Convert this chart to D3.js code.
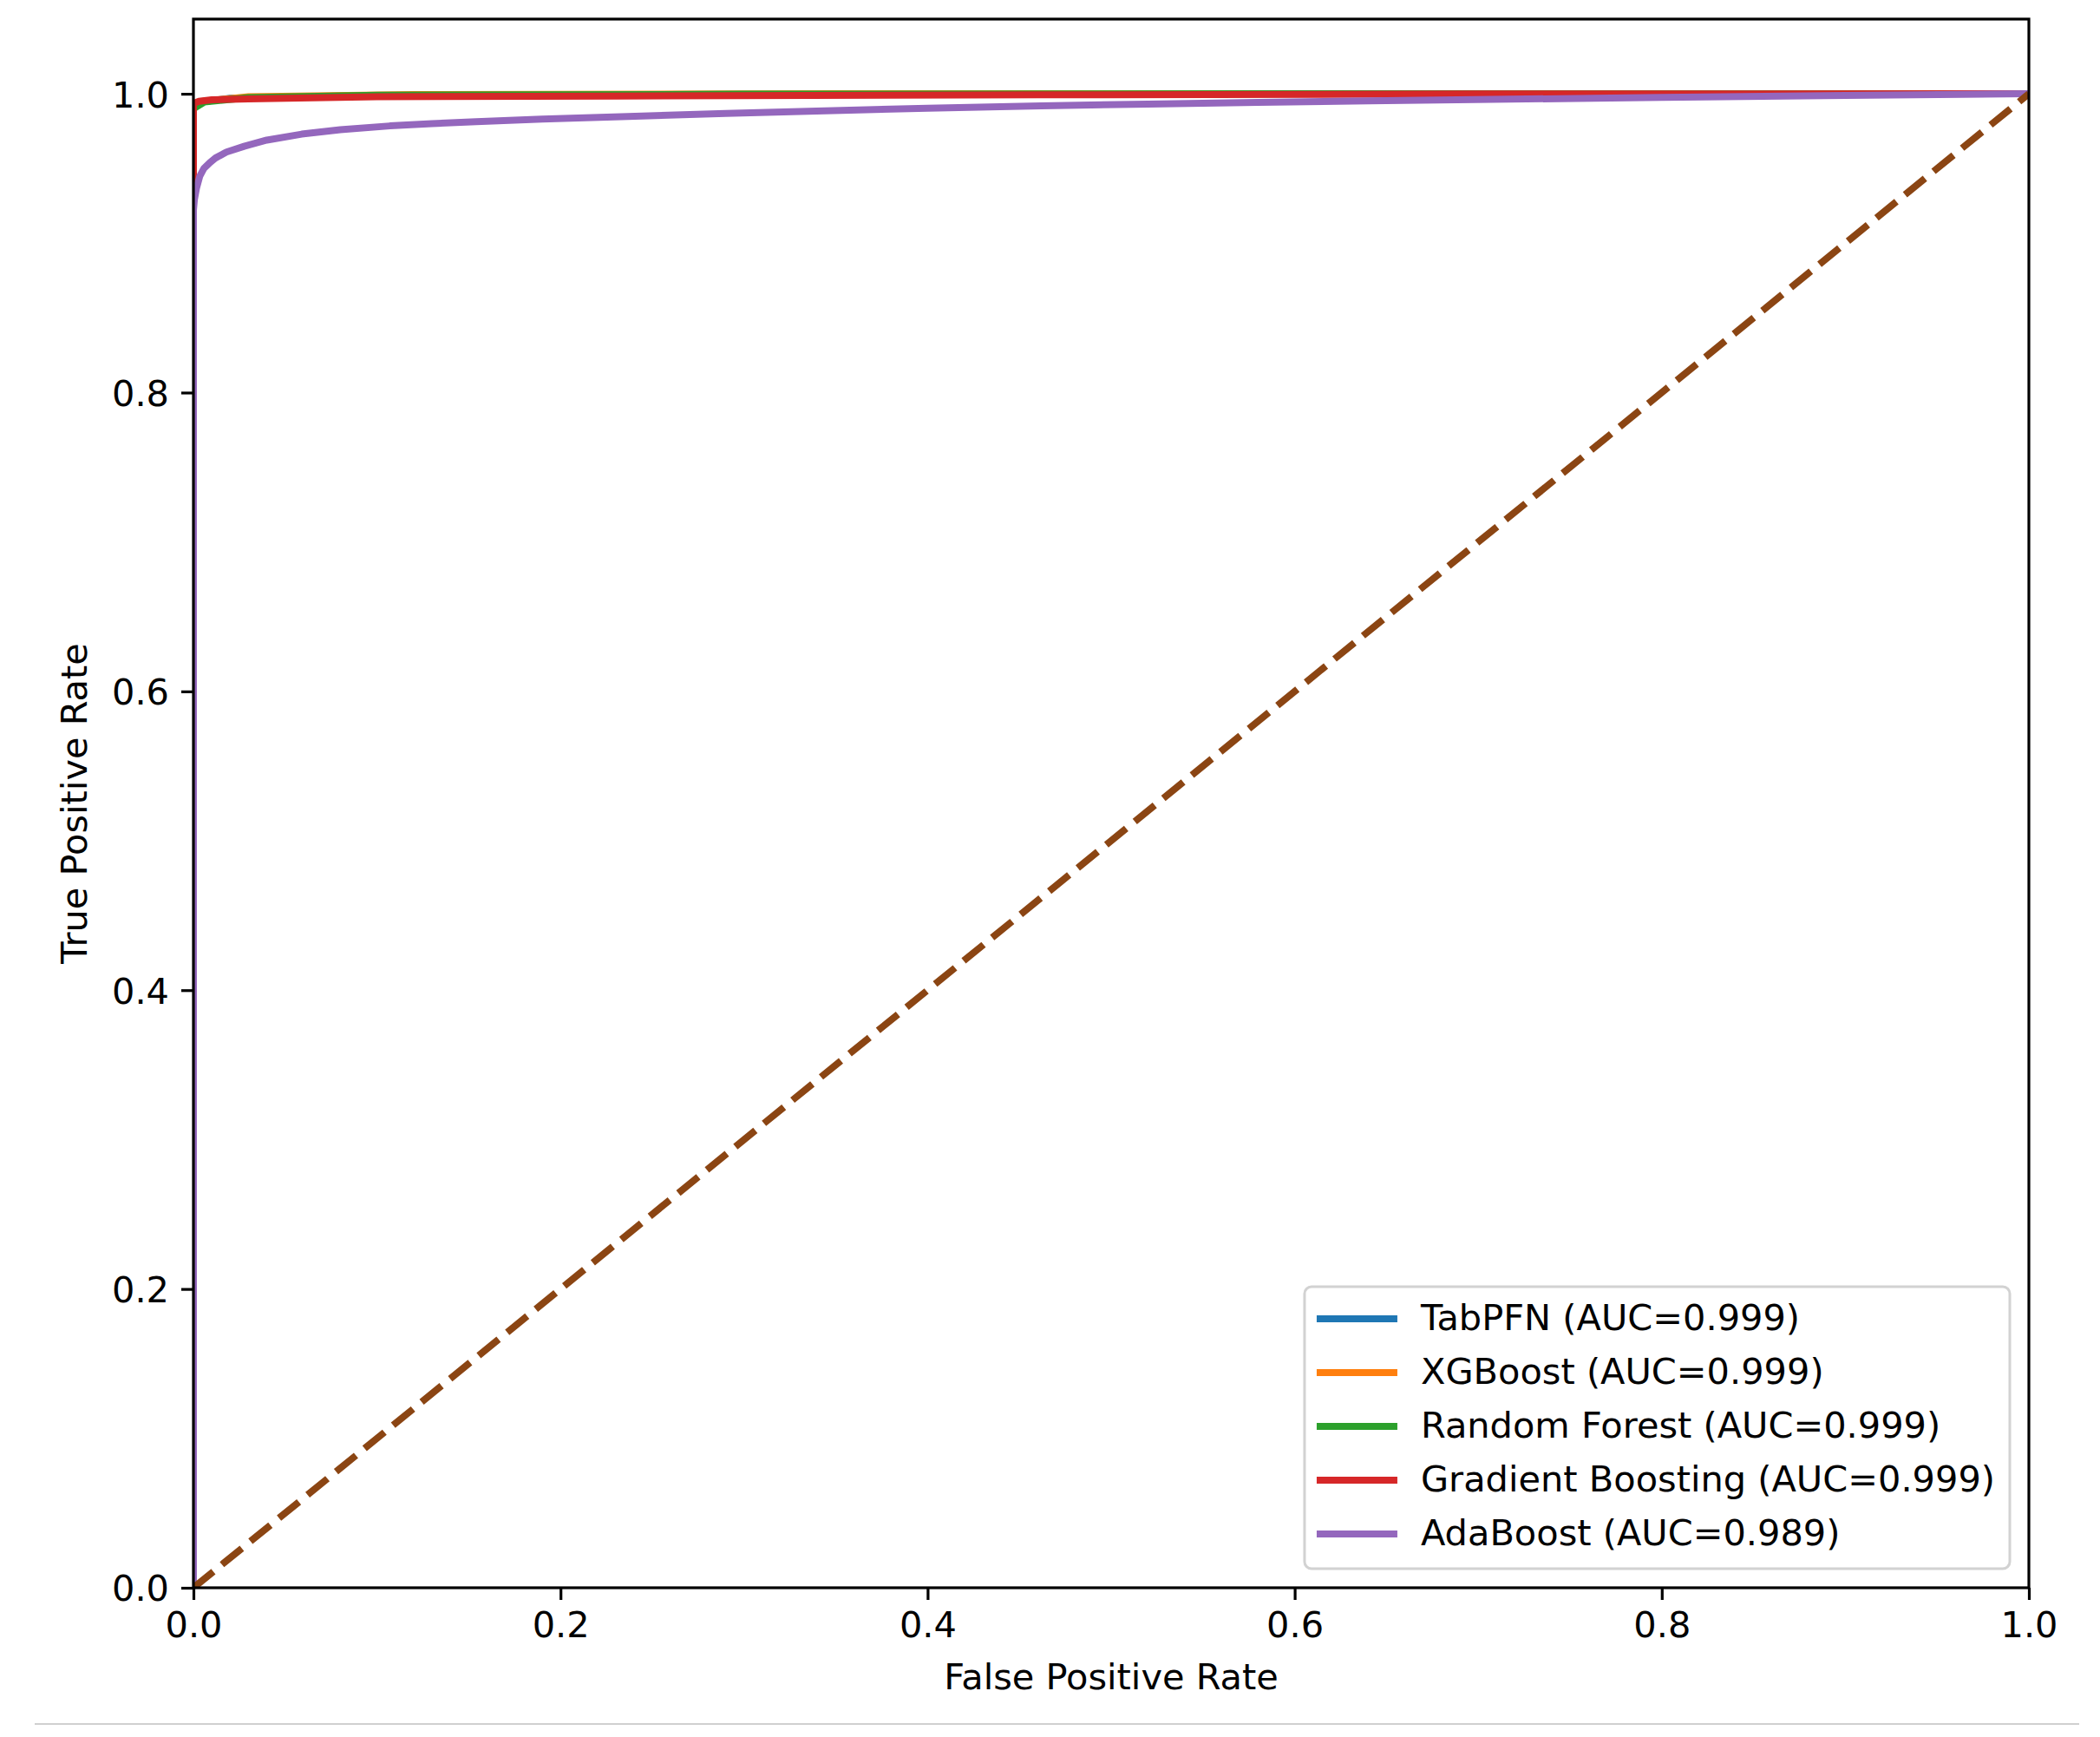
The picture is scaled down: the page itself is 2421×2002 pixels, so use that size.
<!DOCTYPE html>
<meta charset="utf-8">

<head>
    <script src="https://d3js.org/d3.v7.min.js"></script>
    <style>
        body { margin: 0; background: #fff; }
        svg text { font-family: "DejaVu Sans", sans-serif; fill: #000; }
    </style>

    <script>

        // ROC points
        var tabpfnFpr = [0, 0, 0.004, 0.02, 0.08, 0.25, 0.5, 1.0];
        var tabpfnTpr = [0, 0.992, 0.9945, 0.997, 0.9985, 0.9995, 1.0, 1.0];

        var xgboostFpr = [0, 0, 0.005, 0.03, 0.12, 0.35, 1.0];
        var xgboostTpr = [0, 0.991, 0.995, 0.998, 0.9995, 1.0, 1.0];

        var forestFpr = [0, 0, 0.006, 0.03, 0.1, 0.3, 0.6, 1.0];
        var forestTpr = [0, 0.990, 0.9945, 0.9975, 0.999, 0.9997, 1.0, 1.0];

        var gradientFpr = [0, 0, 0.003, 0.01, 0.03, 0.1, 0.23, 0.46, 0.7, 1.0];
        var gradientTpr = [0, 0.9935, 0.995, 0.996, 0.9966, 0.998, 0.9985, 0.9993, 0.9999, 1.0];

        var adaFpr = [0, 0, 0.0005, 0.0017, 0.0035, 0.0057, 0.009, 0.012, 0.018, 0.028, 0.04, 0.059, 0.08, 0.107,
                      0.13, 0.154, 0.19, 0.233, 0.29, 0.344, 0.40, 0.462, 0.52, 0.58, 0.64, 0.698, 0.8, 0.9, 1.0];
        var adaTpr = [0, 0.922, 0.929, 0.937, 0.945, 0.950, 0.954, 0.957, 0.961, 0.965, 0.969, 0.973, 0.976, 0.9785,
                      0.980, 0.9813, 0.983, 0.9847, 0.9868, 0.9886, 0.9903, 0.9919, 0.9931, 0.9942, 0.9952, 0.9961, 0.9976, 0.9989, 1.0];

        var modelNames = ["TabPFN (AUC=0.999)", "XGBoost (AUC=0.999)", "Random Forest (AUC=0.999)",
                          "Gradient Boosting (AUC=0.999)", "AdaBoost (AUC=0.989)"];
        var modelColors = ["#1f77b4", "#ff7f0e", "#2ca02c", "#d62728", "#9467bd"];

        var chanceLine = [0, 1];
        var xTicks = [0, 0.2, 0.4, 0.6, 0.8, 1.0];
        var yTicks = [0, 0.2, 0.4, 0.6, 0.8, 1.0];

        var W = 2421, H = 2002;
        var m = {left: 223, right: 2339, top: 22, bottom: 1830};
        var fs = 41.5;

        function zipPts(xs, ys) {
            return xs.map(function(x, i) { return [x, ys[i]]; });
        }

        function draw() {
            var svg = d3.select('#roc').attr('width', W).attr('height', H);

            var x = d3.scaleLinear().domain([0, 1]).range([m.left, m.right]);
            var y = d3.scaleLinear().domain([0, 1.05]).range([m.bottom, m.top]);

            svg.append('defs').append('clipPath').attr('id', 'plotclip')
                .append('rect')
                .attr('x', m.left).attr('y', m.top)
                .attr('width', m.right - m.left).attr('height', m.bottom - m.top);

            var line = d3.line()
                .x(function(d) { return x(d[0]); })
                .y(function(d) { return y(d[1]); });

            var series = [
                zipPts(tabpfnFpr, tabpfnTpr),
                zipPts(xgboostFpr, xgboostTpr),
                zipPts(forestFpr, forestTpr),
                zipPts(gradientFpr, gradientTpr),
                zipPts(adaFpr, adaTpr)
            ];

            var plot = svg.append('g').attr('clip-path', 'url(#plotclip)');

            plot.selectAll('path.roc')
                .data(series)
                .enter().append('path')
                .attr('class', 'roc')
                .attr('d', line)
                .attr('fill', 'none')
                .attr('stroke', function(d, i) { return modelColors[i]; })
                .attr('stroke-width', 8)
                .attr('stroke-linejoin', 'round');

            plot.append('path')
                .attr('d', line(zipPts(chanceLine, chanceLine)))
                .attr('fill', 'none')
                .attr('stroke', '#8b4513')
                .attr('stroke-width', 8)
                .attr('stroke-dasharray', '29.6,12.8');

            // axes
            var xAxis = svg.append('g')
                .attr('transform', 'translate(0,' + m.bottom + ')')
                .call(d3.axisBottom(x).tickValues(xTicks).tickFormat(d3.format('.1f'))
                    .tickSize(14).tickPadding(14));
            var yAxis = svg.append('g')
                .attr('transform', 'translate(' + m.left + ',0)')
                .call(d3.axisLeft(y).tickValues(yTicks).tickFormat(d3.format('.1f'))
                    .tickSize(14).tickPadding(14));

            [xAxis, yAxis].forEach(function(a) {
                a.select('.domain').remove();
                a.selectAll('.tick line').attr('stroke', '#000').attr('stroke-width', 3.2);
                a.selectAll('.tick text').attr('font-size', fs)
                    .style('font-family', '"DejaVu Sans", sans-serif').attr('fill', '#000');
            });
            xAxis.selectAll('.tick text').attr('dy', '0.69em');
            yAxis.selectAll('.tick text').attr('dy', '0.36em');

            svg.append('rect')
                .attr('x', m.left).attr('y', m.top)
                .attr('width', m.right - m.left).attr('height', m.bottom - m.top)
                .attr('fill', 'none')
                .attr('stroke', '#000')
                .attr('stroke-width', 3.2);

            svg.append('text')
                .attr('x', (m.left + m.right) / 2)
                .attr('y', 1947)
                .attr('text-anchor', 'middle')
                .attr('font-size', fs)
                .text('False Positive Rate');

            svg.append('text')
                .attr('transform', 'translate(100,' + (m.top + m.bottom) / 2 + ') rotate(-90)')
                .attr('text-anchor', 'middle')
                .attr('font-size', fs)
                .text('True Positive Rate');

            // legend, lower right
            var lg = svg.append('g');
            var frame = lg.append('rect')
                .attr('rx', 8).attr('ry', 8)
                .attr('fill', '#fff').attr('fill-opacity', 0.8)
                .attr('stroke', '#d2d2d2').attr('stroke-width', 3);

            var rowPitch = 62, topPad = 37, handleLen = 93, textGap = 27, pad = 14;
            var maxW = 0;
            var rows = lg.selectAll('g.row')
                .data(modelNames)
                .enter().append('g')
                .attr('class', 'row')
                .attr('transform', function(d, i) { return 'translate(0,' + (topPad + i * rowPitch) + ')'; });

            rows.append('line')
                .attr('x1', pad).attr('x2', pad + handleLen)
                .attr('y1', 0).attr('y2', 0)
                .attr('stroke', function(d, i) { return modelColors[i]; })
                .attr('stroke-width', 8);

            rows.append('text')
                .attr('x', pad + handleLen + textGap)
                .attr('y', 13)
                .attr('font-size', fs)
                .text(function(d) { return d; })
                .each(function() { maxW = Math.max(maxW, this.getComputedTextLength()); });

            var lw = pad + handleLen + textGap + maxW + 17;
            var lh = 325;
            frame.attr('x', 0).attr('y', 0).attr('width', lw).attr('height', lh);
            lg.attr('transform', 'translate(' + (m.right - 22 - lw) + ',' + (m.bottom - 22 - lh) + ')');

            // thin rule under the figure
            svg.append('line')
                .attr('x1', 40).attr('x2', 2397)
                .attr('y1', 1987).attr('y2', 1987)
                .attr('stroke', '#d0d0d0').attr('stroke-width', 2);
        }

    </script>

</head>

<body onload="draw()">

    <svg id='roc'></svg>

</body>
